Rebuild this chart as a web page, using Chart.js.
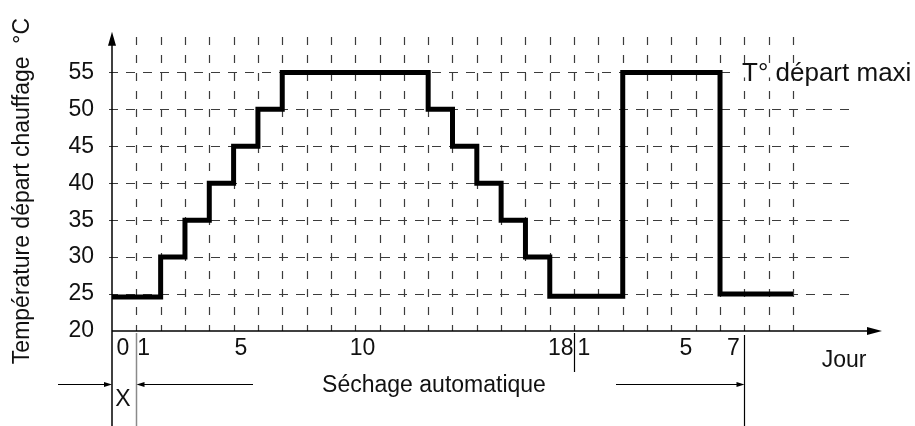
<!DOCTYPE html>
<html lang="fr">
<head>
<meta charset="utf-8">
<title>Séchage automatique</title>
<script src="https://cdn.jsdelivr.net/npm/chart.js@4.4.1/dist/chart.umd.min.js"></script>
<style>
  html, body { margin: 0; padding: 0; background: #fff; }
  #cadre { width: 915px; height: 426px; }
</style>
</head>
<body>
<div id="cadre"><canvas id="courbe"></canvas></div>
<script>
// paliers de séchage : jour de début du palier et température de départ (°C)
var jours = [0, 2, 3, 4, 5, 6, 7, 13, 14, 15, 16, 17, 18, 21, 25, 28];
var temperatures = [24.6, 30, 35, 40, 45, 50, 55, 50, 45, 40, 35, 30, 24.7, 55, 25, 25];

// graduations
var graduationsY = [20, 25, 30, 35, 40, 45, 50, 55];
var positionsJours = [0.45, 1.3, 5.3, 10.3, 18.45, 19.4, 23.6, 25.55];
var libellesJours = ["0", "1", "5", "10", "18", "1", "5", "7"];
var dernierJour = 28;

var famille = '"Liberation Sans", Arial, sans-serif';
var police = "23px " + famille;
var encre = "#111";

function fleche(ctx, xDepart, y, xPointe) {
  var sens = xPointe > xDepart ? 1 : -1;
  ctx.beginPath();
  ctx.moveTo(xDepart, y);
  ctx.lineTo(xPointe - sens * 5, y);
  ctx.stroke();
  ctx.beginPath();
  ctx.moveTo(xPointe, y);
  ctx.lineTo(xPointe - sens * 8, y - 2.5);
  ctx.lineTo(xPointe - sens * 8, y + 2.5);
  ctx.closePath();
  ctx.fill();
}

function trait(ctx, x1, y1, x2, y2) {
  ctx.beginPath();
  ctx.moveTo(x1, y1);
  ctx.lineTo(x2, y2);
  ctx.stroke();
}

var dessin = {
  id: "dessin",
  beforeDatasetsDraw: function (chart) {
    var ctx = chart.ctx, x = chart.scales.x, y = chart.scales.y;
    ctx.save();
    ctx.strokeStyle = "#3c3c3c";
    ctx.lineWidth = 1.2;

    // quadrillage vertical, un trait par jour
    ctx.setLineDash([8, 10]);
    var haut = y.getPixelForValue(59.8);
    for (var j = 1; j <= dernierJour; j++) {
      var px = Math.round(x.getPixelForValue(j)) + 0.5;
      trait(ctx, px, haut, px, y.bottom);
    }

    // quadrillage horizontal
    ctx.setLineDash([9, 8]);
    var fin = x.getPixelForValue(30.4);
    graduationsY.slice(1).forEach(function (v) {
      var py = Math.round(y.getPixelForValue(v)) + 0.5;
      trait(ctx, x.left - 3, py, fin, py);
    });
    ctx.restore();
  },
  afterDraw: function (chart) {
    var ctx = chart.ctx, x = chart.scales.x, y = chart.scales.y;
    var x0 = x.getPixelForValue(0), y0 = y.getPixelForValue(20);
    var bas = chart.height;
    ctx.save();
    ctx.setLineDash([]);
    ctx.strokeStyle = "#000";
    ctx.fillStyle = "#000";

    // axes avec flèches
    ctx.lineWidth = 1.5;
    trait(ctx, x0, bas, x0, y.top + 10);
    ctx.beginPath();
    ctx.moveTo(x0, y.top);
    ctx.lineTo(x0 - 4, y.top + 14);
    ctx.lineTo(x0 + 4, y.top + 14);
    ctx.closePath();
    ctx.fill();

    trait(ctx, x0, y0, x.right - 10, y0);
    ctx.beginPath();
    ctx.moveTo(x.right, y0);
    ctx.lineTo(x.right - 15, y0 - 4);
    ctx.lineTo(x.right - 15, y0 + 4);
    ctx.closePath();
    ctx.fill();

    // séparations des phases sous l'axe
    ctx.lineWidth = 1.5;
    ctx.strokeStyle = "#8a8a8a";
    var xUn = Math.round(x.getPixelForValue(1)) + 0.5;
    trait(ctx, xUn, y0 + 2, xUn, bas);
    ctx.strokeStyle = "#000";
    ctx.lineWidth = 1.2;
    var x19 = Math.round(x.getPixelForValue(19)) + 0.5;
    trait(ctx, x19, y0 + 2, x19, 372);
    var x26 = Math.round(x.getPixelForValue(26)) + 0.5;
    trait(ctx, x26, y0 + 4, x26, bas);

    // flèches de durée
    ctx.lineWidth = 1;
    fleche(ctx, 58, 384.5, x0);
    fleche(ctx, 253, 384.5, xUn);
    fleche(ctx, 616, 384.5, x26);

    // textes
    ctx.font = police;
    ctx.fillStyle = encre;
    ctx.textBaseline = "alphabetic";
    ctx.textAlign = "center";
    ctx.fillText("X", x.getPixelForValue(0.45), 406);
    ctx.fillText("Séchage automatique", 434, 392);
    ctx.fillText("Jour", 844, 367);

    // titre de l'axe vertical
    ctx.save();
    ctx.translate(23, 191);
    ctx.rotate(-Math.PI / 2);
    ctx.textBaseline = "middle";
    ctx.fillText("Température départ chauffage  °C", 0, 0);
    ctx.restore();

    // repère de la température maximale
    var yMax = y.getPixelForValue(55);
    var xTexte = x.getPixelForValue(25) + 22;
    ctx.font = "26px " + famille;
    ctx.textAlign = "left";
    ctx.textBaseline = "middle";
    var largeur = ctx.measureText("T° départ maxi").width;
    ctx.fillStyle = "#fff";
    ctx.fillRect(xTexte - 4, yMax - 5, largeur + 8, 10);
    ctx.fillStyle = encre;
    ctx.fillText("T° départ maxi", xTexte, yMax + 1);
    ctx.restore();
  }
};

new Chart(document.getElementById("courbe").getContext("2d"), {
  type: "line",
  data: {
    datasets: [{
      data: jours.map(function (j, i) { return { x: j, y: temperatures[i] }; }),
      stepped: "before",
      borderColor: "#000",
      borderWidth: 5,
      borderJoinStyle: "miter",
      borderCapStyle: "butt",
      pointRadius: 0,
      fill: false
    }]
  },
  options: {
    responsive: true,
    maintainAspectRatio: false,
    animation: false,
    layout: { padding: { top: 12, right: 33, left: 0, bottom: 0 } },
    plugins: {
      legend: { display: false },
      tooltip: { enabled: false }
    },
    scales: {
      x: {
        type: "linear",
        min: 0,
        max: 31.66,
        afterFit: function (scale) { scale.height = 95; },
        afterBuildTicks: function (scale) {
          scale.ticks = positionsJours.map(function (v) { return { value: v }; });
        },
        ticks: {
          autoSkip: false,
          maxRotation: 0,
          padding: 4,
          color: encre,
          font: { family: famille, size: 23 },
          callback: function (v) {
            var i = positionsJours.indexOf(v);
            return i >= 0 ? libellesJours[i] : "";
          }
        },
        grid: { display: false, drawTicks: false },
        border: { display: false }
      },
      y: {
        min: 20,
        max: 60.5,
        afterFit: function (scale) { scale.width = 112; },
        afterBuildTicks: function (scale) {
          scale.ticks = graduationsY.map(function (v) { return { value: v }; });
        },
        ticks: {
          padding: 18,
          color: encre,
          font: { family: famille, size: 23 }
        },
        grid: { display: false, drawTicks: false },
        border: { display: false }
      }
    }
  },
  plugins: [dessin]
});
</script>
</body>
</html>
